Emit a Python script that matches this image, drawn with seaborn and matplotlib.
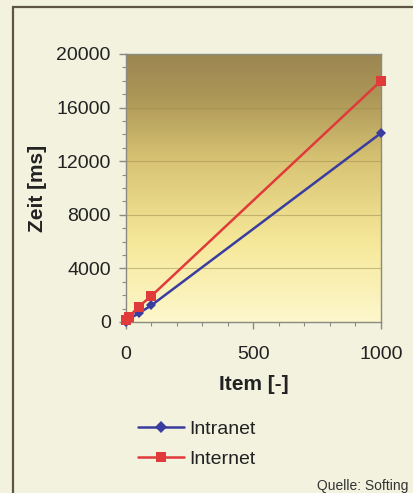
import numpy as np
import pandas as pd
import matplotlib
matplotlib.use("Agg")
import matplotlib.pyplot as plt
from matplotlib.colors import LinearSegmentedColormap
from matplotlib.patches import Rectangle
from matplotlib.ticker import MultipleLocator
from matplotlib.lines import Line2D
import seaborn as sns

items = [1, 10, 50, 100, 1000]
intranet = [30, 200, 650, 1250, 14100]
internet = [150, 350, 1150, 1950, 18000]
series_names = ["Intranet", "Internet"]
x_label = "Item [-]"
y_label = "Zeit [ms]"
source = "Quelle: Softing"

df = pd.DataFrame({
    "Item": items * 2,
    "Zeit": intranet + internet,
    "Serie": [series_names[0]] * len(items) + [series_names[1]] * len(items),
})

sns.set_theme(style="white")
plt.rcParams['font.family'] = ['Liberation Sans', 'DejaVu Sans']

W, H = 414, 493
fig = plt.figure(figsize=(W / 100, H / 100), dpi=100)
bg = "#f2f2df"
fig.patch.set_facecolor(bg)

# outer frame (right and bottom edges run off the picture)
fig.add_artist(Rectangle((13 / W, -20 / H), 430 / W, (H - 7 + 20) / H,
                         transform=fig.transFigure, fill=False,
                         edgecolor="#5e5444", linewidth=1.6, clip_on=False))

ax = fig.add_axes([126 / W, 1 - 322 / H, 255 / W, 268 / H])

# gradient background
cmap = LinearSegmentedColormap.from_list(
    "bg", [(0.0, "#fdf7cc"), (0.3, "#f6e899"), (0.6, "#d8c474"), (0.85, "#ab9556"), (1.0, "#9c8652")])
grad = np.linspace(0, 1, 256).reshape(-1, 1)
ax.imshow(grad, extent=[0, 1000, 0, 20000], origin="lower", aspect="auto",
          cmap=cmap, zorder=0)

for yv in range(4000, 20000, 4000):
    ax.axhline(yv, color="#9c8a4e", lw=0.8, alpha=0.5, zorder=1)

palette = {series_names[0]: "#3a3ca0", series_names[1]: "#e03a3a"}
markers = {series_names[0]: "D", series_names[1]: "s"}
sns.lineplot(data=df, x="Item", y="Zeit", hue="Serie", style="Serie",
             palette=palette, markers=markers, dashes=False, ax=ax,
             markersize=7, linewidth=1.8, markeredgewidth=0, zorder=3,
             legend=False, clip_on=False)
for ln in ax.lines:
    if ln.get_marker() == "D":
        ln.set_markersize(5.5)

ax.set_xlim(0, 1000)
ax.set_ylim(0, 20000)
ax.xaxis.set_major_locator(MultipleLocator(500))
ax.xaxis.set_minor_locator(MultipleLocator(100))
ax.yaxis.set_major_locator(MultipleLocator(4000))
ax.yaxis.set_minor_locator(MultipleLocator(1000))
ax.tick_params(axis="both", which="both", direction="out", color="#8a8a80",
               bottom=True, left=True, labelcolor="#222222")
ax.tick_params(which="major", length=5, width=1, labelsize=14)
ax.tick_params(axis="x", which="major", pad=12)
ax.tick_params(axis="y", which="major", pad=6)
ax.tick_params(which="minor", length=3, width=0.8)
for s in ax.spines.values():
    s.set_color("#8a8a80")
    s.set_linewidth(1.0)

ax.set_xlabel(x_label, fontsize=15, fontweight="bold", color="#222222", labelpad=9)
ax.set_ylabel(y_label, fontsize=15, fontweight="bold", color="#222222", labelpad=7)

handles = [Line2D([], [], color=palette[n], marker=markers[n],
                  markersize=6 if markers[n] == "D" else 7, markeredgewidth=0,
                  linewidth=1.8) for n in series_names]
fig.legend(handles, series_names, loc="center left",
           bbox_to_anchor=(128 / W, 1 - 444 / H),
           frameon=False, fontsize=14, handlelength=2.4, handletextpad=0.25,
           labelspacing=0.65, labelcolor="#222222", borderpad=0)

fig.text(317 / W, 1 - 486 / H, source, fontsize=10, color="#333333",
         ha="left", va="center")

fig.savefig("out.png", dpi=100, facecolor=fig.get_facecolor())
